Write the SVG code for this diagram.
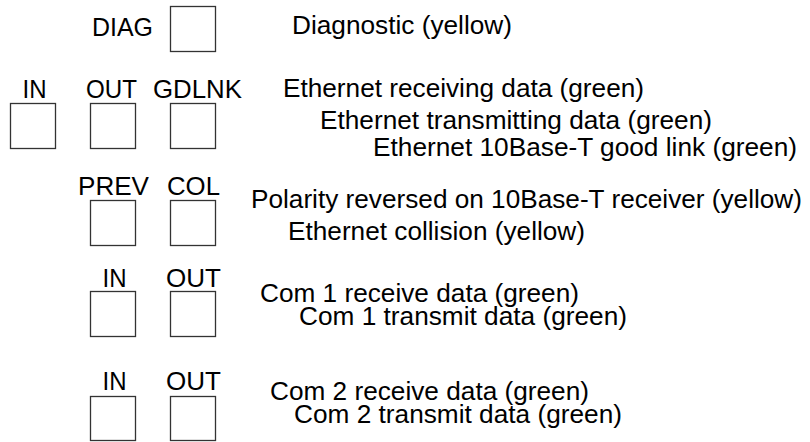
<svg xmlns="http://www.w3.org/2000/svg" width="810" height="442" viewBox="0 0 810 442">
<style>
text{font-family:"Liberation Sans",Arial,sans-serif;font-size:25px;fill:#000}
.box{fill:#fff;stroke:#333;stroke-width:1.3}
</style>
<rect width="810" height="442" fill="#fff"/>
<g id="diag">
<text x="92" y="36" textLength="61" lengthAdjust="spacingAndGlyphs">DIAG</text>
<rect class="box" x="170.5" y="6.5" width="45" height="45"/>
<text x="292" y="34" textLength="220" lengthAdjust="spacingAndGlyphs">Diagnostic (yellow)</text>
</g>
<g id="eth-in">
<text x="22.5" y="97.5" textLength="24" lengthAdjust="spacingAndGlyphs">IN</text>
<rect class="box" x="10.5" y="103.5" width="45" height="45"/>
<text x="283" y="97" textLength="361" lengthAdjust="spacingAndGlyphs">Ethernet receiving data (green)</text>
</g>
<g id="eth-out">
<text x="86" y="97.5" textLength="51" lengthAdjust="spacingAndGlyphs">OUT</text>
<rect class="box" x="90.5" y="103.5" width="45" height="45"/>
<text x="320" y="129" textLength="392" lengthAdjust="spacingAndGlyphs">Ethernet transmitting data (green)</text>
</g>
<g id="eth-gdlnk">
<text x="153" y="97.5" textLength="89" lengthAdjust="spacingAndGlyphs">GDLNK</text>
<rect class="box" x="170.5" y="103.5" width="45" height="45"/>
<text x="373" y="156" textLength="424" lengthAdjust="spacingAndGlyphs">Ethernet 10Base-T good link (green)</text>
</g>
<g id="prev">
<text x="78" y="195" textLength="71" lengthAdjust="spacingAndGlyphs">PREV</text>
<rect class="box" x="90.5" y="200.5" width="45" height="45"/>
<text x="251" y="208" textLength="551" lengthAdjust="spacingAndGlyphs">Polarity reversed on 10Base-T receiver (yellow)</text>
</g>
<g id="col">
<text x="167" y="195" textLength="53" lengthAdjust="spacingAndGlyphs">COL</text>
<rect class="box" x="170.5" y="200.5" width="45" height="45"/>
<text x="288" y="240" textLength="297" lengthAdjust="spacingAndGlyphs">Ethernet collision (yellow)</text>
</g>
<g id="com1-in">
<text x="102.5" y="286.5" textLength="24" lengthAdjust="spacingAndGlyphs">IN</text>
<rect class="box" x="90.5" y="291.5" width="45" height="45"/>
<text x="260" y="302" textLength="319" lengthAdjust="spacingAndGlyphs">Com 1 receive data (green)</text>
</g>
<g id="com1-out">
<text x="166" y="286.5" textLength="55" lengthAdjust="spacingAndGlyphs">OUT</text>
<rect class="box" x="170.5" y="291.5" width="45" height="45"/>
<text x="299" y="325" textLength="328" lengthAdjust="spacingAndGlyphs">Com 1 transmit data (green)</text>
</g>
<g id="com2-in">
<text x="102.5" y="390" textLength="24" lengthAdjust="spacingAndGlyphs">IN</text>
<rect class="box" x="90.5" y="396.5" width="45" height="44"/>
<text x="270" y="400" textLength="319" lengthAdjust="spacingAndGlyphs">Com 2 receive data (green)</text>
</g>
<g id="com2-out">
<text x="166" y="390" textLength="55" lengthAdjust="spacingAndGlyphs">OUT</text>
<rect class="box" x="170.5" y="396.5" width="45" height="44"/>
<text x="294" y="423" textLength="328" lengthAdjust="spacingAndGlyphs">Com 2 transmit data (green)</text>
</g>
<g id="connectors"></g>
</svg>
